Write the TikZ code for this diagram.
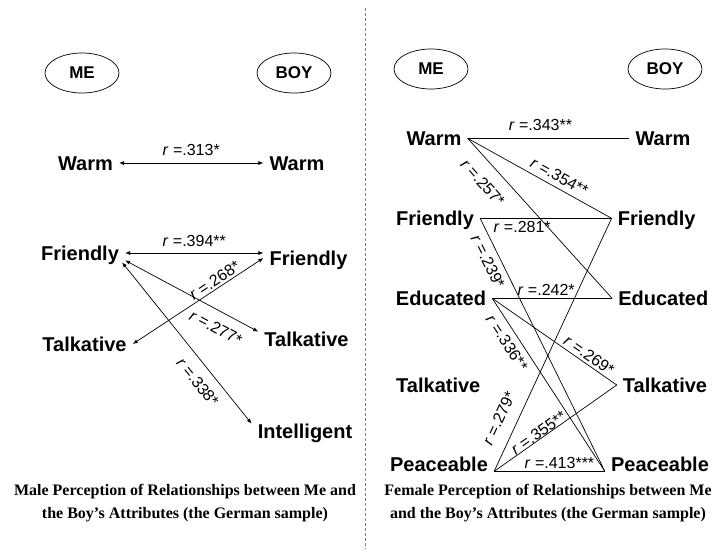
\documentclass[tikz,border=0pt]{standalone}
\usepackage{fontspec}
\setmainfont{Liberation Serif}
\setsansfont{Liberation Sans}
\usepackage{tikz}
\usetikzlibrary{arrows.meta,shapes.geometric}
\definecolor{dividergray}{RGB}{130,130,130}

\begin{document}
\begin{tikzpicture}[x=1pt,y=-1pt,
  attr/.style={font=\sffamily\bfseries\fontsize{20}{24}\selectfont,inner xsep=6pt,inner ysep=0pt,text height=14.3pt,text depth=0pt},
  group/.style={draw,ellipse,line width=0.7pt,inner sep=0pt,minimum width=74pt,minimum height=40pt,font=\sffamily\bfseries\fontsize{17}{20}\selectfont},
  link/.style={line width=0.7pt},
  duo/.style={link,{Latex[length=5pt,width=4pt]}-{Latex[length=5pt,width=4pt]}},
  coef/.style={font=\sffamily\fontsize{16}{19}\selectfont,inner xsep=1pt},
  caption/.style={font=\rmfamily\bfseries\fontsize{16}{23}\selectfont,align=center}]
\useasboundingbox (0,0) rectangle (717,549);
% Draw the dotted divider
\draw[dividergray,line width=1pt,dash pattern=on 3pt off 2pt] (365,8) -- (365,549);
% Draw the ME and BOY ovals
\node[group] (meM) at (82,73) {ME};
\node[group] (boyM) at (294,73) {BOY};
\node[group] (meF) at (431,69) {ME};
\node[group] (boyF) at (665,69) {BOY};
% Male side attributes
\node[attr] (mWarmL) at (85.5,163) {Warm};
\node[attr] (mWarmR) at (297,163) {Warm};
\node[attr] (mFriendL) at (80,253) {Friendly};
\node[attr] (mFriendR) at (308.5,258) {Friendly};
\node[attr] (mTalkL) at (84.5,344) {Talkative};
\node[attr] (mTalkR) at (306.5,339) {Talkative};
\node[attr] (mIntelR) at (305,431) {Intelligent};
% Male side arrows
\draw[duo] (mWarmL.east) -- (mWarmR.west) node[coef,midway,above,inner ysep=7pt] {\textit{r} =.313*};
\draw[duo] (mFriendL.east) -- (mFriendL.east -| mFriendR.west) node[coef,midway,above,inner ysep=6pt] {\textit{r} =.394**};
\draw[duo] (mTalkL.east) -- (mFriendR.west) node[coef,pos=0.66,sloped,above,inner ysep=2pt] {\textit{r} =.268*};
\draw[duo] (mFriendL.south east) -- (mTalkR.north west) node[coef,pos=0.74,sloped,below,inner ysep=10.5pt] {\textit{r} =.277*};
\draw[duo] ([xshift=-3pt,yshift=-2pt]mFriendL.south east) -- (mIntelR.north west) node[coef,pos=0.68,sloped,below,inner ysep=10pt] {\textit{r} =.338*};
% Female side attributes
\node[attr] (fWarmL) at (434,138.3) {Warm};
\node[attr] (fWarmR) at (663,138.3) {Warm};
\node[attr] (fFriendL) at (435,218.3) {Friendly};
\node[attr] (fFriendR) at (656.7,218.3) {Friendly};
\node[attr] (fEduL) at (441,298.3) {Educated};
\node[attr] (fEduR) at (663.3,298.3) {Educated};
\node[attr] (fTalkL) at (438.3,385) {Talkative};
\node[attr] (fTalkR) at (665,385) {Talkative};
\node[attr] (fPeaceL) at (439,464) {Peaceable};
\node[attr] (fPeaceR) at (660,464) {Peaceable};
% Female side lines
\draw[link] (fWarmL.east) -- (fWarmR.west) node[coef,pos=0.45,above,inner ysep=7.5pt] {\textit{r} =.343**};
\draw[link] (fWarmL.east) -- (fFriendR.west) node[coef,pos=0.6,sloped,above,inner ysep=5pt] {\textit{r} =.354**};
\draw[link] (fWarmL.east) -- (fEduR.west) node[coef,pos=0.2,sloped,below,inner ysep=12.5pt] {\textit{r} =.257*};
\draw[link] (fFriendL.east) -- (fFriendR.west) node[coef,pos=0.32,below,inner ysep=2.5pt] {\textit{r} =.281*};
\draw[link] (fFriendL.east) -- (fPeaceR.south west) node[coef,pos=0.15,sloped,below,inner ysep=6pt] {\textit{r} =.239*};
\draw[link] (fEduL.east) -- (fEduR.west) node[coef,pos=0.45,above,inner ysep=2pt] {\textit{r} =.242*};
\draw[link] (fEduL.east) -- (fPeaceR.south west) node[coef,pos=0.22,sloped,below,inner ysep=6pt] {\textit{r} =.336**};
\draw[link] (fEduL.east) -- (fTalkR.west) node[coef,pos=0.74,sloped,above,inner ysep=2.5pt] {\textit{r} =.269*};
\draw[link] (fPeaceL.south east) -- (fFriendR.west) node[coef,pos=0.18,sloped,above,inner ysep=12pt] {\textit{r} =.279*};
\draw[link] (fPeaceL.south east) -- (fTalkR.west) node[coef,pos=0.39,sloped,above,inner ysep=0pt] {\textit{r} =.355**};
\draw[link] (fPeaceL.south east) -- (fPeaceR.south west) node[coef,pos=0.59,above,inner ysep=2.5pt] {\textit{r} =.413***};
% Add captions below
\node[caption] (capM) at (185,503.5) {Male Perception of Relationships between Me and\\the Boy’s Attributes (the German sample)};
\node[caption] (capF) at (548,503.5) {Female Perception of Relationships between Me\\and the Boy’s Attributes (the German sample)};
\end{tikzpicture}
\end{document}
